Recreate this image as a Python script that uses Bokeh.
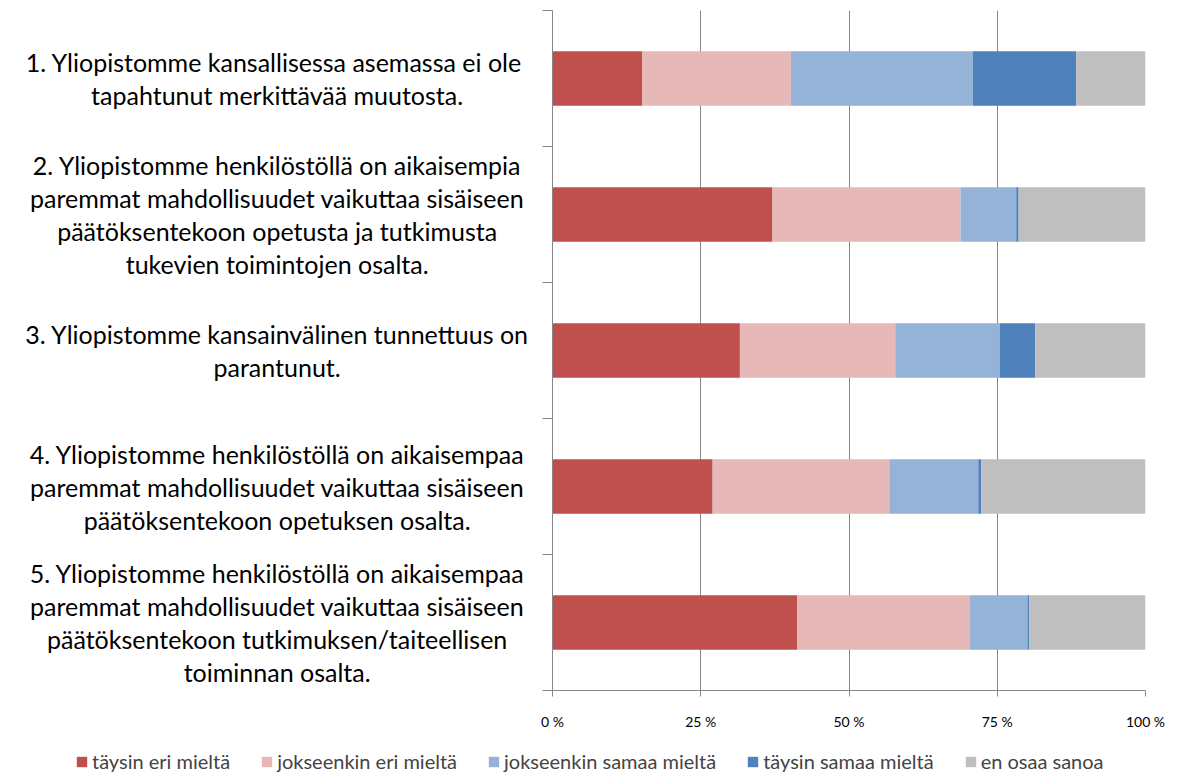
import numpy as np
from bokeh.plotting import figure
from bokeh.layouts import row, column
from bokeh.models import Range1d, FixedTicker, Legend, LegendItem, ColumnDataSource
from bokeh.core.properties import value
from bokeh.embed import file_html
from bokeh.resources import INLINE

categories = [
    "1. Yliopistomme kansallisessa  asemassa ei ole\ntapahtunut merkittävää muutosta.",
    "2. Yliopistomme henkilöstöllä on aikaisempia\nparemmat mahdollisuudet vaikuttaa sisäiseen\npäätöksentekoon opetusta ja tutkimusta\ntukevien toimintojen osalta.",
    "3. Yliopistomme kansainvälinen tunnettuus on\nparantunut.",
    "4. Yliopistomme henkilöstöllä on aikaisempaa\nparemmat mahdollisuudet vaikuttaa sisäiseen\npäätöksentekoon opetuksen osalta.",
    "5. Yliopistomme henkilöstöllä on aikaisempaa\nparemmat mahdollisuudet vaikuttaa sisäiseen\npäätöksentekoon tutkimuksen/taiteellisen\ntoiminnan osalta.",
]
series = ["täysin eri mieltä", "jokseenkin eri mieltä", "jokseenkin samaa mieltä",
          "täysin samaa mieltä", "en osaa sanoa"]
taysin_eri = [15.1, 37.1, 31.6, 27.0, 41.3]
jokseenkin_eri = [25.1, 31.7, 26.2, 29.8, 29.0]
jokseenkin_samaa = [30.7, 9.4, 17.6, 15.0, 9.8]
taysin_samaa = [17.4, 0.4, 6.0, 0.5, 0.3]
en_osaa = [11.7, 21.4, 18.6, 27.7, 19.6]
colors = ["#C0504D", "#E6B9B8", "#95B3D7", "#4F81BD", "#BFBFBF"]
x_ticks = [0, 25, 50, 75, 100]
x_tick_labels = ["0 %", "25 %", "50 %", "75 %", "100 %"]

FONT = "Lato"
n = len(categories)
ypos = np.arange(n) + 0.5
keys = ["s0", "s1", "s2", "s3", "s4"]
source = ColumnDataSource(dict(y=ypos, s0=taysin_eri, s1=jokseenkin_eri, s2=jokseenkin_samaa,
                               s3=taysin_samaa, s4=en_osaa))
y_range = Range1d(n, 0)

TOP, BOTTOM = 10, 40
H = 732

# ---- category labels panel ----
lab = figure(width=532, height=H, output_backend="svg", toolbar_location=None,
             x_range=Range1d(0, 1), y_range=y_range,
             x_axis_location=None, y_axis_location=None,
             min_border_left=0, min_border_right=0, min_border_top=TOP, min_border_bottom=BOTTOM)
lab.grid.visible = False
lab.outline_line_color = None
lab.text(x=0.52, y=ypos, text=categories, text_align="center", text_baseline="middle",
         text_font=value(FONT), text_font_size="25px", text_line_height=1.1, text_color="#000000")

# ---- main chart ----
p = figure(width=636, height=H, output_backend="svg", toolbar_location=None,
           x_range=Range1d(0, 100), y_range=y_range,
           min_border_left=20, min_border_right=23, min_border_top=TOP, min_border_bottom=BOTTOM)
p.outline_line_color = None

renderers = p.hbar_stack(keys, y="y", height=0.4, color=colors, line_color=None, source=source)

p.xaxis.ticker = FixedTicker(ticks=x_ticks)
p.xaxis.major_label_overrides = {t: l for t, l in zip(x_ticks, x_tick_labels)}
p.xaxis.axis_line_color = "#868686"
p.xaxis.major_tick_line_color = "#868686"
p.xaxis.major_tick_out = 6
p.xaxis.major_tick_in = 0
p.xaxis.minor_tick_line_color = None
p.xaxis.major_label_standoff = 16
p.xaxis.major_label_text_font = FONT
p.xaxis.major_label_text_font_size = "14px"
p.xaxis.major_label_text_color = "#000000"

y_ticks = list(range(n + 1))
p.yaxis.ticker = FixedTicker(ticks=y_ticks)
p.yaxis.major_label_overrides = {t: "" for t in y_ticks}
p.yaxis.axis_line_color = "#868686"
p.yaxis.major_tick_line_color = "#868686"
p.yaxis.major_tick_out = 10
p.yaxis.major_tick_in = 0
p.yaxis.minor_tick_line_color = None
p.yaxis.major_label_standoff = 0

p.xgrid.ticker = FixedTicker(ticks=x_ticks)
p.xgrid.grid_line_color = "#868686"
p.ygrid.grid_line_color = None

# ---- legend strip (series renderers kept out of view, only their swatches show) ----
lg = figure(width=1168, height=41, output_backend="svg", toolbar_location=None,
            x_range=Range1d(0, 100), y_range=Range1d(n + 10, n + 11),
            x_axis_location=None, y_axis_location=None,
            min_border_left=0, min_border_right=0, min_border_top=0, min_border_bottom=0)
lg.grid.visible = False
lg.outline_line_color = None
swatches = lg.hbar_stack(keys, y="y", height=0.4, color=colors, line_color=None, source=source)
legend = Legend(items=[LegendItem(label=s, renderers=[r]) for s, r in zip(series, swatches)],
                orientation="horizontal", location=(75, 0))
legend.label_text_font = FONT
legend.label_text_font_size = "20px"
legend.glyph_width = 13
legend.glyph_height = 13
legend.label_height = 18
legend.label_standoff = 4
legend.spacing = 30
legend.padding = 0
legend.margin = 0
legend.border_line_color = None
legend.background_fill_alpha = 0
lg.add_layout(legend)

layout = column(row(lab, p), lg)
open("out.html", "w").write(file_html(layout, INLINE))
